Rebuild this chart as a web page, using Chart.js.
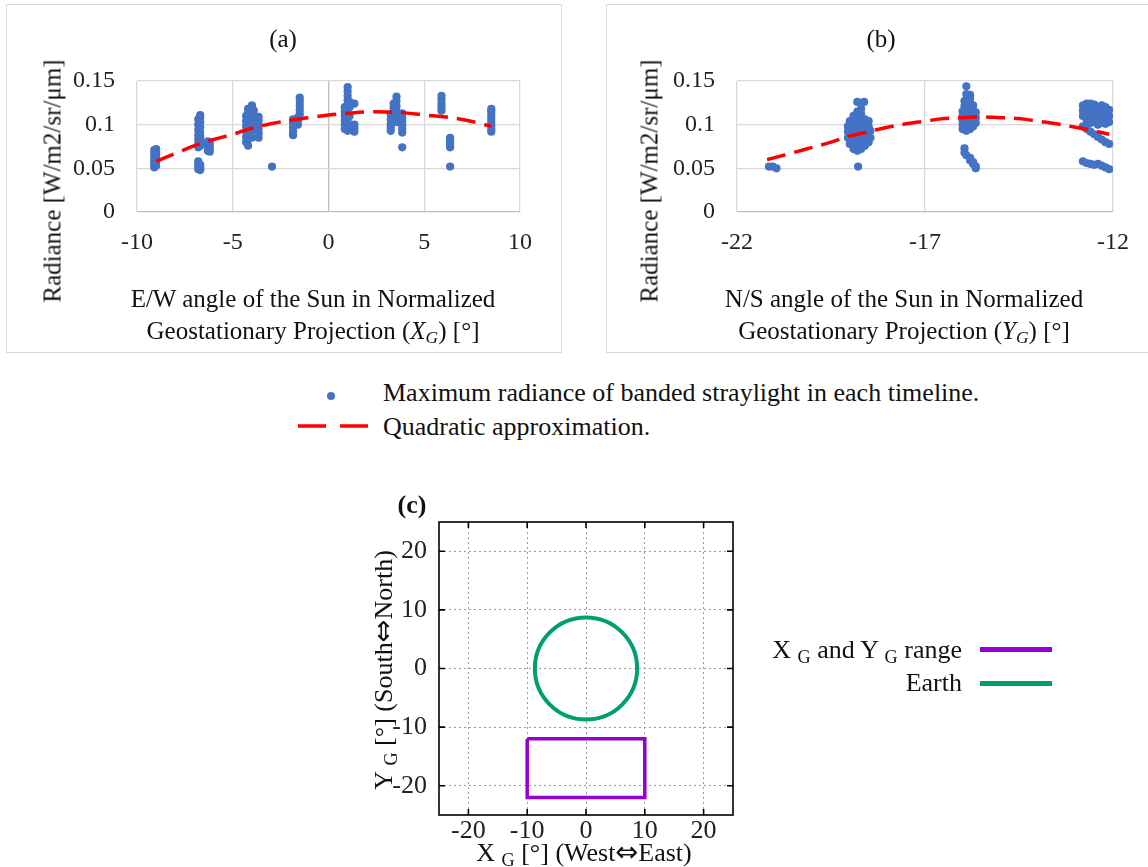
<!DOCTYPE html>
<html lang="en">
<head>
<meta charset="UTF-8">
<title>Banded straylight radiance vs Sun angle</title>
<script src="https://cdn.jsdelivr.net/npm/chart.js"></script>
<style>
    body {
        margin: 0;
        width: 1148px;
        height: 867px;
        position: relative;
        overflow: hidden;
        background: #fff;
        font-family: "Liberation Serif", "Times New Roman", serif;
        color: #111;
    }
    canvas { position: absolute; }
    .frame { position: absolute; border: 1.5px solid #d9d9d9; }
    .t {
        position: absolute;
        white-space: nowrap;
        font-size: 25px;
        line-height: 1;
        transform: translate(-50%, -50%);
    }
    .rot { transform: translate(-50%, -50%) rotate(-90deg); }
    .left { transform: translate(0, -50%); }
    .right { transform: translate(0, -50%); text-align: right; }
    sub { font-size: 0.7em; vertical-align: -0.25em; line-height: 0; }
    .c { font-size: 26px; }
    .arrow { font-family: "DejaVu Sans", sans-serif; font-size: 1.05em; }
    .mark { position: absolute; }
</style>
</head>
<body>

<div class="frame" style="left:6px;top:4px;width:554px;height:347px"></div>
<div class="frame" style="left:606px;top:4px;width:560px;height:347px"></div>

<canvas id="chartA" width="580" height="360" style="left:0;top:0"></canvas>
<canvas id="chartB" width="548" height="360" style="left:600px;top:0"></canvas>
<canvas id="chartC" width="420" height="387" style="left:360px;top:480px"></canvas>

<!-- panel (a) texts -->
<div class="t" style="left:283px;top:38px">(a)</div>
<div class="t rot" style="left:52px;top:181px">Radiance [W/m2/sr/μm]</div>
<div class="t" style="left:313px;top:298px">E/W angle of the Sun in Normalized</div>
<div class="t" style="left:313px;top:330px">Geostationary Projection (<i>X<sub>G</sub></i>) [°]</div>

<!-- panel (b) texts -->
<div class="t" style="left:881px;top:38px">(b)</div>
<div class="t rot" style="left:649px;top:181px">Radiance [W/m2/sr/μm]</div>
<div class="t" style="left:904px;top:298px">N/S angle of the Sun in Normalized</div>
<div class="t" style="left:904px;top:330px">Geostationary Projection (<i>Y<sub>G</sub></i>) [°]</div>

<!-- shared legend -->
<div class="mark" style="left:327px;top:392px;width:8px;height:8px;border-radius:50%;background:#4472c4"></div>
<div class="t left" style="left:383px;top:393px;font-size:26px">Maximum radiance of banded straylight in each timeline.</div>
<svg class="mark" style="left:298px;top:420px" width="74" height="12">
    <line x1="0" y1="6" x2="72" y2="6" stroke="#ff0000" stroke-width="3.5" stroke-dasharray="28 14"/>
</svg>
<div class="t left" style="left:383px;top:427px;font-size:26px">Quadratic approximation.</div>

<!-- panel (c) texts -->
<div class="t c" style="left:412px;top:505px;font-weight:bold">(c)</div>
<div class="t c rot" style="left:383px;top:670px">Y <sub>G</sub> [°] (South<span class="arrow">⇔</span>North)</div>
<div class="t c" style="left:584px;top:852px">X <sub>G</sub> [°] (West<span class="arrow">⇔</span>East)</div>
<div class="t c right" style="right:186px;left:auto;top:650px">X <sub>G</sub> and Y <sub>G</sub> range</div>
<div class="t c right" style="right:186px;left:auto;top:683px">Earth</div>
<div class="mark" style="left:980px;top:647px;width:72px;height:5px;background:#9400d3"></div>
<div class="mark" style="left:980px;top:681px;width:72px;height:5px;background:#009e73"></div>

<script>
    // (a) E/W angle of the Sun vs max radiance
    const ewAngle = [
        -9.1, -9.1, -9.1, -9.1, -9.1, -9.1,
        -9.0, -9.0, -9.0, -9.0, -9.0, -9.0,
        -6.8, -6.8, -6.8, -6.8, -6.8, -6.8, -6.8,
        -6.7, -6.7, -6.7, -6.7, -6.7, -6.7, -6.7, -6.7,
        -6.7, -6.7, -6.7, -6.7, -6.8, -6.8, -6.8, -6.8,
        -6.3, -6.3, -6.3, -6.3, -6.2, -6.2, -6.2, -6.2,
        -4.3, -4.3, -4.3, -4.3, -4.3, -4.3,
        -4.2, -4.2, -4.2, -4.2, -4.2, -4.2, -4.2, -4.2,
        -4.0, -4.0, -4.0, -4.0, -4.0, -4.0, -4.0,
        -3.9, -3.9, -3.9, -3.9, -3.65, -3.65, -3.65, -3.65, -3.65, -3.65,
        -2.95, -1.85, -1.85, -1.85, -1.85, -1.85,
        -1.6, -1.6, -1.6, -1.5, -1.5, -1.5, -1.5, -1.5,
        0.85, 0.85, 0.85, 0.85, 0.85, 0.85,
        1.0, 1.0, 1.0, 1.0, 1.0, 1.0, 1.0, 1.0, 1.0, 1.0, 1.0,
        1.1, 1.1, 1.1, 1.1, 1.35, 1.35, 1.35, 1.35,
        3.25, 3.25, 3.25, 3.25, 3.25, 3.4, 3.4, 3.4, 3.4,
        3.55, 3.55, 3.55, 3.55, 3.55, 3.55,
        3.85, 3.85, 3.85, 3.85, 3.85, 3.85, 3.85,
        5.9, 5.9, 5.9, 5.9, 5.9, 6.35, 6.35, 6.35, 6.35, 6.35, 6.35,
        8.5, 8.5, 8.5, 8.5, 8.5, 8.5, 8.5, 8.5
    ];
    const ewRadiance = [
        0.051, 0.055, 0.059, 0.063, 0.067, 0.071,
        0.053, 0.057, 0.061, 0.065, 0.069, 0.072,
        0.074, 0.078, 0.083, 0.088, 0.094, 0.100, 0.106,
        0.076, 0.081, 0.086, 0.091, 0.097, 0.103, 0.108, 0.111,
        0.048, 0.050, 0.052, 0.054, 0.049, 0.053, 0.056, 0.058,
        0.070, 0.074, 0.078, 0.081, 0.069, 0.072, 0.076, 0.080,
        0.080, 0.086, 0.092, 0.098, 0.104, 0.110,
        0.076, 0.083, 0.089, 0.095, 0.101, 0.107, 0.113, 0.118,
        0.085, 0.093, 0.100, 0.108, 0.115, 0.120, 0.122,
        0.098, 0.104, 0.110, 0.116, 0.085, 0.090, 0.095, 0.100, 0.105, 0.109,
        0.052, 0.088, 0.092, 0.097, 0.102, 0.106,
        0.100, 0.104, 0.108, 0.112, 0.117, 0.122, 0.127, 0.131,
        0.095, 0.100, 0.105, 0.110, 0.115, 0.120,
        0.093, 0.098, 0.103, 0.108, 0.113, 0.118, 0.123, 0.128, 0.133, 0.138, 0.143,
        0.100, 0.110, 0.120, 0.126, 0.092, 0.096, 0.100, 0.124,
        0.093, 0.097, 0.101, 0.106, 0.112, 0.108, 0.114, 0.119, 0.124,
        0.103, 0.109, 0.115, 0.121, 0.127, 0.132,
        0.074, 0.091, 0.095, 0.099, 0.103, 0.108, 0.113,
        0.116, 0.120, 0.124, 0.129, 0.133, 0.052, 0.074, 0.077, 0.080, 0.083, 0.085,
        0.092, 0.095, 0.099, 0.103, 0.107, 0.111, 0.115, 0.118
    ];
    const ewFitAngle = [-9, -8, -7, -6, -5, -4, -3, -2, -1, 0, 1, 2, 3, 4, 5, 6, 7, 8, 8.5];
    const ewFitRadiance = [0.058, 0.067, 0.076, 0.083, 0.089, 0.096, 0.101, 0.105, 0.108, 0.111,
        0.113, 0.1145, 0.1145, 0.1135, 0.111, 0.109, 0.106, 0.101, 0.098];

    // (b) N/S angle of the Sun vs max radiance
    const nsAngle = [
        -21.15, -21.05, -20.95,
        -19.05, -19.05, -19.05, -19.0, -19.0, -19.0, -19.0, -19.0, -19.0,
        -18.9, -18.9, -18.9, -18.9, -18.9, -18.9, -18.9, -18.9, -18.9,
        -18.8, -18.8, -18.8, -18.8, -18.8, -18.8, -18.8, -18.8, -18.8, -18.8, -18.8,
        -18.7, -18.7, -18.7, -18.7, -18.7, -18.7, -18.7, -18.7, -18.7,
        -18.62, -18.6, -18.6, -18.6, -18.6, -18.6, -18.6,
        -18.5, -18.5, -18.5, -18.5, -18.5, -18.45, -18.45, -18.78,
        -16.0, -16.0, -16.0, -16.0, -16.0,
        -15.95, -15.95, -15.95, -15.95, -15.95, -15.95, -15.95, -15.95,
        -15.9, -15.9, -15.9, -15.9, -15.9, -15.9, -15.9, -15.9, -15.9, -15.9,
        -15.8, -15.8, -15.8, -15.8, -15.8, -15.8, -15.8, -15.8, -15.8, -15.8,
        -15.72, -15.72, -15.72, -15.72, -15.72, -15.72, -15.72,
        -15.65, -15.65, -15.65, -15.65, -15.65,
        -12.8, -12.8, -12.8, -12.8, -12.8, -12.7, -12.7, -12.7, -12.7, -12.7, -12.7,
        -12.6, -12.6, -12.6, -12.6, -12.6, -12.6, -12.6,
        -12.5, -12.5, -12.5, -12.5, -12.5, -12.5, -12.4, -12.4, -12.4, -12.4, -12.4, -12.4,
        -12.3, -12.3, -12.3, -12.3, -12.3, -12.3, -12.2, -12.2, -12.2, -12.2, -12.2, -12.2,
        -12.1, -12.1, -12.1, -12.1, -12.1
    ];
    const nsRadiance = [
        0.052, 0.052, 0.050,
        0.085, 0.092, 0.098, 0.078, 0.083, 0.088, 0.094, 0.100, 0.104,
        0.072, 0.077, 0.082, 0.087, 0.092, 0.097, 0.102, 0.107, 0.110,
        0.070, 0.075, 0.080, 0.085, 0.090, 0.095, 0.100, 0.105, 0.110, 0.115, 0.126,
        0.072, 0.078, 0.084, 0.090, 0.096, 0.102, 0.108, 0.112, 0.118,
        0.126, 0.076, 0.082, 0.088, 0.094, 0.100, 0.106,
        0.080, 0.086, 0.092, 0.098, 0.104, 0.085, 0.093, 0.052,
        0.095, 0.100, 0.105, 0.110, 0.115,
        0.068, 0.073, 0.097, 0.103, 0.109, 0.115, 0.121, 0.127,
        0.065, 0.093, 0.099, 0.105, 0.111, 0.117, 0.123, 0.129, 0.135, 0.144,
        0.059, 0.062, 0.095, 0.100, 0.106, 0.112, 0.118, 0.124, 0.130, 0.134,
        0.055, 0.057, 0.098, 0.104, 0.110, 0.116, 0.122,
        0.050, 0.052, 0.102, 0.108, 0.114,
        0.058, 0.098, 0.110, 0.116, 0.122, 0.056, 0.095, 0.105, 0.112, 0.119, 0.124,
        0.055, 0.092, 0.102, 0.108, 0.115, 0.121, 0.124,
        0.054, 0.089, 0.103, 0.110, 0.117, 0.123, 0.055, 0.086, 0.100, 0.106, 0.113, 0.120,
        0.053, 0.083, 0.102, 0.109, 0.116, 0.122, 0.051, 0.080, 0.101, 0.108, 0.115, 0.120,
        0.049, 0.078, 0.103, 0.110, 0.117
    ];
    const nsFitAngle = [-21.2, -20.5, -20, -19.5, -19, -18.5, -18, -17.5, -17, -16.5, -16,
        -15.5, -15, -14.5, -14, -13.5, -13, -12.5, -12.1];
    const nsFitRadiance = [0.060, 0.068, 0.074, 0.080, 0.087, 0.092, 0.097, 0.101, 0.104, 0.107, 0.108,
        0.109, 0.108, 0.107, 0.104, 0.101, 0.097, 0.093, 0.089];

    // (c) X_G / Y_G range and the Earth disk
    const rangeX = [-10, 10, 10, -10, -10];
    const rangeY = [-12, -12, -22, -22, -12];
    const earthCenter = [0, 0];
    const earthRadius = 8.7;

    const ewTicks = [-10, -5, 0, 5, 10];
    const nsTicks = [-22, -17, -12];
    const radianceTicks = [0, 0.05, 0.1, 0.15];
    const cTicks = [-20, -10, 0, 10, 20];

    const pair = (xs, ys) => xs.map((x, i) => ({ x: x, y: ys[i] }));
    const serif = "'Liberation Serif', 'Times New Roman', serif";

    function radianceChart(id, xs, ys, fitXs, fitYs, xTicks, rightPad) {
        const gridColor = ctx => (ctx.tick && ctx.tick.value === 0) ? '#bfbfbf' : '#d9d9d9';
        return new Chart(document.getElementById(id), {
            type: 'scatter',
            data: {
                datasets: [
                    {
                        type: 'line',
                        data: pair(fitXs, fitYs),
                        borderColor: '#ff0000',
                        borderWidth: 3.5,
                        borderDash: [19, 9],
                        pointRadius: 0,
                        tension: 0.4,
                        fill: false
                    },
                    {
                        data: pair(xs, ys),
                        backgroundColor: '#4472c4',
                        borderWidth: 0,
                        pointRadius: 4.1
                    }
                ]
            },
            options: {
                responsive: false,
                animation: false,
                layout: { padding: { left: 0, top: 81, right: rightPad, bottom: 103 } },
                plugins: { legend: { display: false }, tooltip: { enabled: false } },
                scales: {
                    x: {
                        type: 'linear',
                        min: xTicks[0],
                        max: xTicks[xTicks.length - 1],
                        afterBuildTicks: a => { a.ticks = xTicks.map(v => ({ value: v })); },
                        afterFit: a => { a.height = 45; },
                        ticks: { font: { family: serif, size: 24 }, color: '#222', padding: 16, callback: v => String(v) },
                        grid: { color: gridColor, lineWidth: 1.3, drawTicks: false },
                        border: { display: false }
                    },
                    y: {
                        min: 0,
                        max: 0.15,
                        afterBuildTicks: a => { a.ticks = radianceTicks.map(v => ({ value: v })); },
                        afterFit: a => { a.width = 137; },
                        ticks: { font: { family: serif, size: 24 }, color: '#222', padding: 22, callback: v => String(v) },
                        grid: { color: gridColor, lineWidth: 1.3, drawTicks: false },
                        border: { display: false }
                    }
                }
            }
        });
    }

    radianceChart('chartA', ewAngle, ewRadiance, ewFitAngle, ewFitRadiance, ewTicks, 60);
    radianceChart('chartB', nsAngle, nsRadiance, nsFitAngle, nsFitRadiance, nsTicks, 35);

    // gnuplot-like frame with inward ticks, plus the Earth outline
    const gnuplotFrame = {
        id: 'gnuplotFrame',
        afterDatasetsDraw(chart) {
            const { ctx, scales: { x, y } } = chart;
            const cx = x.getPixelForValue(earthCenter[0]);
            const cy = y.getPixelForValue(earthCenter[1]);
            const rx = x.getPixelForValue(earthCenter[0] + earthRadius) - cx;
            const ry = cy - y.getPixelForValue(earthCenter[1] + earthRadius);
            ctx.save();
            ctx.strokeStyle = '#009e73';
            ctx.lineWidth = 4;
            ctx.beginPath();
            ctx.ellipse(cx, cy, rx, ry, 0, 0, Math.PI * 2);
            ctx.stroke();
            ctx.restore();
        },
        afterDraw(chart) {
            const { ctx, chartArea: a, scales: { x, y } } = chart;
            ctx.save();
            ctx.strokeStyle = '#000';
            ctx.lineWidth = 1.6;
            ctx.strokeRect(a.left, a.top, a.right - a.left, a.bottom - a.top);
            ctx.beginPath();
            cTicks.forEach(v => {
                const px = x.getPixelForValue(v);
                const py = y.getPixelForValue(v);
                ctx.moveTo(px, a.bottom); ctx.lineTo(px, a.bottom - 6);
                ctx.moveTo(px, a.top); ctx.lineTo(px, a.top + 6);
                ctx.moveTo(a.left, py); ctx.lineTo(a.left + 6, py);
                ctx.moveTo(a.right, py); ctx.lineTo(a.right - 6, py);
            });
            ctx.stroke();
            ctx.restore();
        }
    };

    const cAxis = {
        type: 'linear',
        min: -25,
        max: 25,
        afterBuildTicks: a => { a.ticks = cTicks.map(v => ({ value: v })); },
        ticks: { font: { family: serif, size: 26 }, color: '#222', callback: v => String(v) },
        grid: { color: '#9a9a9a', lineWidth: 1, drawTicks: false },
        border: { display: false, dash: [2, 3] }
    };

    new Chart(document.getElementById('chartC'), {
        type: 'scatter',
        data: {
            datasets: [{
                data: pair(rangeX, rangeY),
                showLine: true,
                borderColor: '#9400d3',
                borderWidth: 3.5,
                pointRadius: 0,
                tension: 0
            }]
        },
        options: {
            responsive: false,
            animation: false,
            layout: { padding: { left: 0, top: 42, right: 47, bottom: 0 } },
            plugins: { legend: { display: false }, tooltip: { enabled: false } },
            scales: {
                x: Object.assign({}, cAxis, {
                    afterFit: a => { a.height = 52; },
                    ticks: Object.assign({}, cAxis.ticks, { padding: 1 })
                }),
                y: Object.assign({}, cAxis, {
                    afterFit: a => { a.width = 79; },
                    ticks: Object.assign({}, cAxis.ticks, { padding: 12 })
                })
            }
        },
        plugins: [gnuplotFrame]
    });
</script>
</body>
</html>
